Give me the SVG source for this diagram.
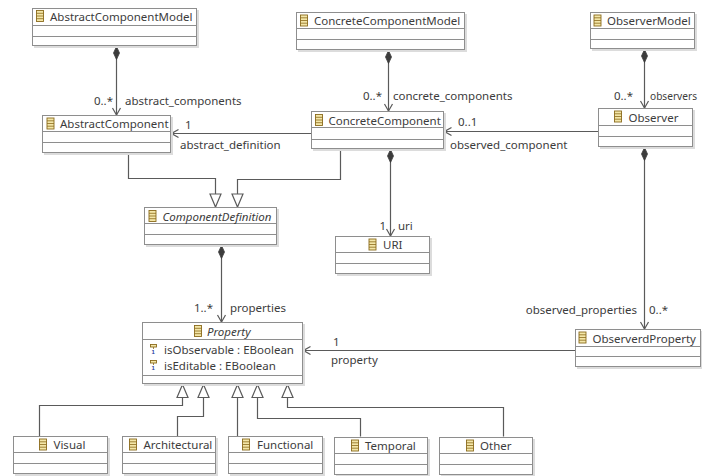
<svg xmlns="http://www.w3.org/2000/svg" width="702" height="476" viewBox="0 0 702 476">
<style>
.sh{fill:#dcdcdc}
.box{fill:#fff;stroke:#8e8e8e;stroke-width:1}
.dv{stroke:#8e8e8e;stroke-width:1}
.t{font-family:"Noto Sans","Open Sans","Liberation Sans",sans-serif;font-size:11.5px;fill:#3c3c3c}
.i{font-style:italic}
.ln{stroke:#5a5a5a;stroke-width:1.2;fill:none}
.ic{fill:#f3e6a8;stroke:#8a6a1c;stroke-width:0.9}
.icl{stroke:#8a6a1c;stroke-width:0.8}
.one{font-family:"Liberation Sans",sans-serif;font-size:6px;font-weight:bold;fill:#1f3f9f}
</style>
<defs>
<g id="ci"><rect class="ic" x="0.5" y="0.5" width="7" height="11"/><line class="icl" x1="0.5" y1="3.3" x2="7.5" y2="3.3"/><line class="icl" x1="0.5" y1="6" x2="7.5" y2="6"/><line class="icl" x1="0.5" y1="8.7" x2="7.5" y2="8.7"/></g>
<marker id="dia" markerUnits="userSpaceOnUse" viewBox="-1 -4 15 8" refX="0" refY="0" markerWidth="15" markerHeight="8" orient="auto"><path d="M0,0 L6.5,-3 L13,0 L6.5,3 Z" fill="#3c3c3c" stroke="#3c3c3c" stroke-width="0.8"/></marker>
<marker id="arr" markerUnits="userSpaceOnUse" viewBox="-9 -6 10 12" refX="0" refY="0" markerWidth="10" markerHeight="12" orient="auto"><path d="M-7,-4 L0,0 L-7,4" fill="none" stroke="#5a5a5a" stroke-width="1.2"/></marker>
<marker id="tri" markerUnits="userSpaceOnUse" viewBox="-15 -8 16 16" refX="0" refY="0" markerWidth="16" markerHeight="16" orient="auto"><path d="M-13,-5.5 L0,0 L-13,5.5 Z" fill="#fff" stroke="#5a5a5a" stroke-width="1.2"/></marker>
</defs>

<g id="connectors">
<path class="ln" d="M116.5,46.5 V115" marker-start="url(#dia)" marker-end="url(#arr)"/>
<path class="ln" d="M388.5,50.5 V111" marker-start="url(#dia)" marker-end="url(#arr)"/>
<path class="ln" d="M644.5,49.5 V108" marker-start="url(#dia)" marker-end="url(#arr)"/>
<path class="ln" d="M311,133.5 H171.5" marker-end="url(#arr)"/>
<path class="ln" d="M598,131.5 H444.5" marker-end="url(#arr)"/>
<path class="ln" d="M390.5,149.5 V236" marker-start="url(#dia)" marker-end="url(#arr)"/>
<path class="ln" d="M644.5,147.5 V329" marker-start="url(#dia)" marker-end="url(#arr)"/>
<path class="ln" d="M221.5,245.5 V322" marker-start="url(#dia)" marker-end="url(#arr)"/>
<path class="ln" d="M575,350.5 H303.5" marker-end="url(#arr)"/>
<path class="ln" d="M128.5,153.5 V178.5 H215.5 V207" marker-end="url(#tri)"/>
<path class="ln" d="M340.5,149.5 V179.5 H237.5 V207" marker-end="url(#tri)"/>
<path class="ln" d="M39.5,436 V405.5 H182.5 V384.5" marker-end="url(#tri)"/>
<path class="ln" d="M177.5,436 V416.5 H203.5 V384.5" marker-end="url(#tri)"/>
<path class="ln" d="M237.5,436 V384.5" marker-end="url(#tri)"/>
<path class="ln" d="M360.5,436.5 V418.5 H257.5 V384.5" marker-end="url(#tri)"/>
<path class="ln" d="M503.5,436.5 V407.5 H287.5 V384.5" marker-end="url(#tri)"/>
<g class="t">
<text x="113" y="104.5" text-anchor="end">0..*</text>
<text x="125" y="104.5">abstract_components</text>
<text x="382" y="100" text-anchor="end">0..*</text>
<text x="393" y="100">concrete_components</text>
<text x="633" y="100" text-anchor="end">0..*</text>
<text x="650" y="100" textLength="47" lengthAdjust="spacingAndGlyphs">observers</text>
<text x="185" y="129">1</text>
<text x="180" y="148.5">abstract_definition</text>
<text x="458" y="126">0..1</text>
<text x="450" y="148.5">observed_component</text>
<text x="386" y="229.5" text-anchor="end">1</text>
<text x="398" y="229.5">uri</text>
<text x="213" y="311.5" text-anchor="end">1..*</text>
<text x="230" y="311.5">properties</text>
<text x="333" y="345.5">1</text>
<text x="331" y="363.5">property</text>
<text x="637" y="313.5" text-anchor="end">observed_properties</text>
<text x="649" y="314">0..*</text>
</g>
</g>

<g id="AbstractComponentModel"><rect class="sh" x="34" y="10" width="165" height="38"/><rect class="box" x="32.5" y="8.5" width="164" height="37"/><line class="dv" x1="32.5" y1="25.5" x2="196.5" y2="25.5"/><line class="dv" x1="32.5" y1="36.5" x2="196.5" y2="36.5"/><use href="#ci" x="36" y="10"/><text class="t" x="50" y="21">AbstractComponentModel</text></g>

<g id="ConcreteComponentModel"><rect class="sh" x="298" y="14" width="169" height="38"/><rect class="box" x="296.5" y="12.5" width="168" height="37"/><line class="dv" x1="296.5" y1="28.5" x2="464.5" y2="28.5"/><line class="dv" x1="296.5" y1="39.5" x2="464.5" y2="39.5"/><use href="#ci" x="300" y="14.5"/><text class="t" x="314" y="25">ConcreteComponentModel</text></g>

<g id="ObserverModel"><rect class="sh" x="592" y="14" width="105" height="37"/><rect class="box" x="590.5" y="12.5" width="104" height="36"/><line class="dv" x1="590.5" y1="28.5" x2="694.5" y2="28.5"/><line class="dv" x1="590.5" y1="39.5" x2="694.5" y2="39.5"/><use href="#ci" x="593.5" y="14.5"/><text class="t" x="607" y="25">ObserverModel</text></g>

<g id="AbstractComponent"><rect class="sh" x="44" y="117" width="129" height="38"/><rect class="box" x="42.5" y="115.5" width="128" height="37"/><line class="dv" x1="42.5" y1="131.5" x2="170.5" y2="131.5"/><line class="dv" x1="42.5" y1="142.5" x2="170.5" y2="142.5"/><use href="#ci" x="46.5" y="117.5"/><text class="t" x="60" y="128">AbstractComponent</text></g>

<g id="ConcreteComponent"><rect class="sh" x="313" y="113" width="133" height="38"/><rect class="box" x="311.5" y="111.5" width="132" height="37"/><line class="dv" x1="311.5" y1="127.5" x2="443.5" y2="127.5"/><line class="dv" x1="311.5" y1="139.5" x2="443.5" y2="139.5"/><use href="#ci" x="315" y="114"/><text class="t" x="328.5" y="124.5">ConcreteComponent</text></g>

<g id="Observer"><rect class="sh" x="600" y="110" width="95" height="39"/><rect class="box" x="598.5" y="108.5" width="94" height="38"/><line class="dv" x1="598.5" y1="125.5" x2="692.5" y2="125.5"/><line class="dv" x1="598.5" y1="136.5" x2="692.5" y2="136.5"/><use href="#ci" x="614" y="110.5"/><text class="t" x="628.5" y="121.5">Observer</text></g>

<g id="ComponentDefinition"><rect class="sh" x="146" y="209" width="133" height="38"/><rect class="box" x="144.5" y="207.5" width="132" height="37"/><line class="dv" x1="144.5" y1="223.5" x2="276.5" y2="223.5"/><line class="dv" x1="144.5" y1="234.5" x2="276.5" y2="234.5"/><use href="#ci" x="148.5" y="210"/><text class="t i" x="162.5" y="220.5">ComponentDefinition</text></g>

<g id="URI"><rect class="sh" x="337" y="238" width="95" height="38"/><rect class="box" x="335.5" y="236.5" width="94" height="37"/><line class="dv" x1="335.5" y1="252.5" x2="429.5" y2="252.5"/><line class="dv" x1="335.5" y1="263.5" x2="429.5" y2="263.5"/><use href="#ci" x="368.5" y="238.5"/><text class="t" x="383" y="249">URI</text></g>

<g id="Property"><rect class="sh" x="144" y="324" width="161" height="62"/><rect class="box" x="142.5" y="322.5" width="160" height="61"/><line class="dv" x1="142.5" y1="339.5" x2="302.5" y2="339.5"/><line class="dv" x1="142.5" y1="375.5" x2="302.5" y2="375.5"/><use href="#ci" x="194" y="325"/><text class="t i" x="207" y="335.5">Property</text>
<rect class="ic" x="150.5" y="344.5" width="6" height="2.5"/><line class="icl" x1="153.5" y1="347" x2="153.5" y2="349"/><text class="one" x="151.5" y="354">1</text>
<rect class="ic" x="150.5" y="360.5" width="6" height="2.5"/><line class="icl" x1="153.5" y1="363" x2="153.5" y2="365"/><text class="one" x="151.5" y="370">1</text>
<text class="t" x="164" y="353.5">isObservable : EBoolean</text><text class="t" x="164" y="369.5">isEditable : EBoolean</text></g>

<g id="ObserverdProperty"><rect class="sh" x="577" y="331" width="125" height="38"/><rect class="box" x="575.5" y="329.5" width="125" height="37"/><line class="dv" x1="575.5" y1="346.5" x2="700.5" y2="346.5"/><line class="dv" x1="575.5" y1="356.5" x2="700.5" y2="356.5"/><use href="#ci" x="578.5" y="331.5"/><text class="t" x="592.5" y="342.5">ObserverdProperty</text></g>

<g id="Visual"><rect class="sh" x="15" y="438" width="95" height="38"/><rect class="box" x="13.5" y="436.5" width="94" height="37"/><line class="dv" x1="13.5" y1="452.5" x2="107.5" y2="452.5"/><line class="dv" x1="13.5" y1="463.5" x2="107.5" y2="463.5"/><use href="#ci" x="39" y="438.5"/><text class="t" x="53.5" y="449">Visual</text></g>

<g id="Architectural"><rect class="sh" x="124" y="438" width="94" height="38"/><rect class="box" x="122.5" y="436.5" width="93" height="37"/><line class="dv" x1="122.5" y1="452.5" x2="215.5" y2="452.5"/><line class="dv" x1="122.5" y1="463.5" x2="215.5" y2="463.5"/><use href="#ci" x="129" y="438.5"/><text class="t" x="143.5" y="449">Architectural</text></g>

<g id="Functional"><rect class="sh" x="230" y="438" width="95" height="38"/><rect class="box" x="228.5" y="436.5" width="94" height="37"/><line class="dv" x1="228.5" y1="452.5" x2="322.5" y2="452.5"/><line class="dv" x1="228.5" y1="463.5" x2="322.5" y2="463.5"/><use href="#ci" x="242" y="438.5"/><text class="t" x="257" y="449">Functional</text></g>

<g id="Temporal"><rect class="sh" x="336" y="439" width="94" height="38"/><rect class="box" x="334.5" y="437.5" width="93" height="37"/><line class="dv" x1="334.5" y1="453.5" x2="427.5" y2="453.5"/><line class="dv" x1="334.5" y1="464.5" x2="427.5" y2="464.5"/><use href="#ci" x="351" y="439.5"/><text class="t" x="365" y="450">Temporal</text></g>

<g id="Other"><rect class="sh" x="441" y="439" width="94" height="38"/><rect class="box" x="439.5" y="437.5" width="93" height="37"/><line class="dv" x1="439.5" y1="453.5" x2="532.5" y2="453.5"/><line class="dv" x1="439.5" y1="464.5" x2="532.5" y2="464.5"/><use href="#ci" x="466" y="439.5"/><text class="t" x="480" y="450">Other</text></g>
</svg>
